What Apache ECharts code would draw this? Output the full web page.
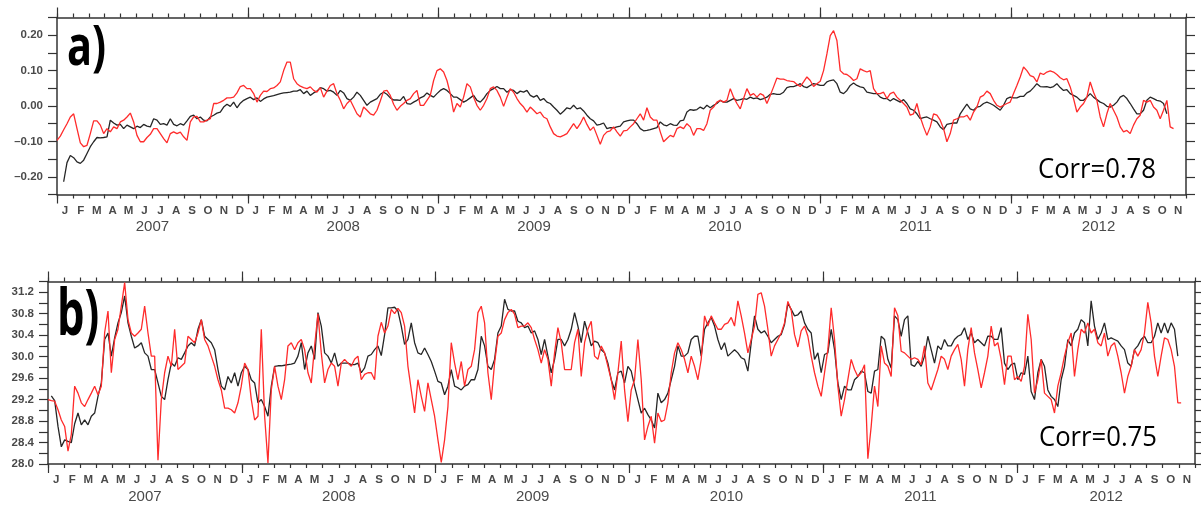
<!DOCTYPE html>
<html><head><meta charset="utf-8">
<script src="https://cdn.jsdelivr.net/npm/echarts@6/dist/echarts.min.js"></script>
<style>html,body{margin:0;padding:0;background:#fff}#c{width:1201px;height:506px}</style>
</head><body><div id="c"></div>
<script>
// ---- data ----
const monthLetters = ['J','F','M','A','M','J','J','A','S','O','N','D'];
const yearLabels = ['2007','2008','2009','2010','2011','2012'];
const nMonths = 71;              // Jan 2007 .. Nov 2012
const topStep = 0.2096;          // months between samples (panel a)
const botStep = 0.2063;          // months between samples (panel b)
const topTickLabels = [-0.2, -0.1, 0, 0.1, 0.2];
const botTickLabels = [28.0, 28.4, 28.8, 29.2, 29.6, 30.0, 30.4, 30.8, 31.2];
const corrA = 'Corr=0.78';
const corrB = 'Corr=0.75';

const topBlack = [null, null,
-0.214,-0.160,-0.140,-0.146,-0.158,-0.162,-0.153,-0.134,-0.115,-0.101,
-0.089,-0.090,-0.089,-0.087,-0.040,-0.048,-0.054,-0.052,-0.064,-0.054,
-0.059,-0.064,-0.057,-0.061,-0.052,-0.057,-0.059,-0.036,-0.040,-0.052,
-0.050,-0.054,-0.036,-0.052,-0.056,-0.050,-0.054,-0.042,-0.029,-0.026,
-0.036,-0.031,-0.040,-0.042,-0.031,-0.026,-0.020,-0.017,-0.003,0.005,
-0.001,0.011,-0.005,0.008,0.016,0.021,0.025,0.018,0.023,0.013,
0.020,0.025,0.027,0.029,0.032,0.035,0.037,0.038,0.039,0.042,
0.042,0.046,0.035,0.042,0.030,0.037,0.042,0.052,0.049,0.042,
0.044,0.039,0.030,0.044,0.037,0.021,0.016,0.025,0.039,0.030,
0.016,0.002,0.011,0.016,0.021,0.033,0.039,0.033,0.023,0.017,
0.017,
0.016,0.027,0.007,0.005,0.011,0.016,0.023,0.027,0.037,0.030,
0.025,0.035,0.044,0.049,0.044,0.035,0.025,0.025,0.018,0.011,
0.016,0.023,0.030,0.016,0.011,0.021,0.035,0.044,0.049,0.055,
0.049,0.049,0.039,0.046,0.044,0.035,0.042,0.039,0.044,0.030,
0.025,0.030,0.016,0.021,0.011,0.007,-0.003,-0.012,-0.023,-0.015,
-0.005,-0.008,0.002,-0.008,-0.005,-0.014,-0.026,-0.036,-0.042,-0.054,
-0.052,-0.048,-0.064,-0.061,-0.062,-0.059,-0.057,-0.045,-0.042,-0.040,
-0.040,-0.050,-0.064,-0.070,-0.069,-0.067,-0.064,-0.061,-0.045,-0.053,
-0.056,-0.050,-0.054,-0.055,-0.042,-0.040,-0.017,-0.010,-0.012,-0.010,
-0.003,-0.008,0.002,-0.005,0.002,0.007,0.016,0.011,0.011,0.016,
0.021,0.016,0.018,0.021,0.019,0.025,0.021,0.023,0.018,0.021,
0.025,0.033,0.035,0.033,
0.033,0.039,0.052,0.055,0.055,0.058,0.063,
0.055,0.052,0.058,0.063,0.061,0.058,0.058,0.068,0.072,0.074,
0.063,0.039,0.035,0.044,0.058,0.065,0.058,0.054,0.052,0.039,
0.037,0.035,0.035,0.025,0.021,0.021,0.014,0.021,0.016,0.011,
0.018,0.007,-0.008,-0.012,-0.022,-0.036,-0.033,-0.031,-0.036,-0.040,
-0.045,-0.059,-0.067,-0.052,-0.050,-0.048,-0.048,-0.022,-0.008,0.005,
-0.008,-0.012,-0.003,-0.001,0.007,0.011,0.007,0.002,-0.005,-0.012,
0.002,0.021,0.025,0.023,0.023,0.027,0.027,0.037,0.042,0.052,
0.063,0.055,0.054,0.055,0.052,0.055,0.063,0.052,0.044,0.046,
0.035,0.030,0.025,0.016,0.016,0.025,0.035,0.025,0.018,0.011,
0.007,-0.001,-0.003,0.002,0.011,0.025,0.030,0.021,0.007,-0.008,
-0.022,-0.022,-0.012,0.016,0.025,0.021,0.016,0.014,0.007,-0.022];

const topRed = [
-0.097,-0.085,-0.067,-0.050,-0.031,-0.022,-0.064,-0.104,-0.115,-0.111,
-0.078,-0.042,-0.042,-0.054,-0.078,-0.064,-0.073,-0.059,-0.064,-0.045,
-0.040,-0.031,-0.020,-0.045,-0.083,-0.101,-0.101,-0.089,-0.080,-0.064,
-0.064,-0.078,-0.092,-0.104,-0.078,-0.073,-0.078,-0.074,-0.087,-0.097,
-0.045,-0.031,-0.029,-0.045,-0.045,-0.040,-0.036,0.007,0.007,0.011,
0.016,0.023,0.023,0.025,0.037,0.055,0.058,0.049,0.049,0.035,
0.011,0.030,0.042,0.041,0.049,0.051,0.058,0.068,0.100,0.124,
0.124,0.077,0.063,0.056,0.052,0.049,0.054,0.044,0.039,0.052,
0.025,0.042,0.058,0.063,0.035,0.016,-0.008,0.007,0.016,-0.003,
-0.022,-0.031,-0.003,-0.012,-0.022,-0.026,-0.012,0.014,0.042,0.044,
0.030,0.005,-0.012,
-0.001,0.007,0.016,0.021,0.035,0.044,0.002,0.002,0.016,0.030,
0.072,0.100,0.105,0.096,0.072,0.035,-0.017,0.007,-0.003,0.025,
0.063,0.054,0.025,0.002,-0.012,0.002,0.021,0.049,0.054,0.044,
0.025,-0.001,0.025,0.049,0.039,0.021,0.007,-0.003,-0.017,-0.003,
-0.012,-0.022,-0.017,-0.031,-0.036,-0.059,-0.078,-0.085,-0.087,-0.083,
-0.078,-0.064,-0.050,-0.064,-0.050,-0.031,-0.052,-0.069,-0.059,-0.083,
-0.108,-0.083,-0.073,-0.070,-0.059,-0.073,-0.085,-0.070,-0.069,-0.059,
-0.050,-0.036,-0.022,-0.040,-0.005,-0.031,-0.040,-0.040,-0.073,-0.101,
-0.092,-0.083,-0.087,-0.064,-0.059,-0.064,-0.050,-0.059,-0.083,-0.064,
-0.064,-0.069,-0.050,-0.012,-0.003,0.011,0.016,0.011,0.016,0.049,
0.025,0.007,-0.008,0.021,0.049,0.030,0.035,0.025,0.035,0.030,
0.007,0.030,0.054,0.079,
0.076,0.076,0.072,0.070,0.069,0.061,0.055,
0.068,0.082,0.072,0.055,0.063,0.070,0.100,0.147,0.199,0.213,
0.185,0.100,0.091,0.089,0.082,0.072,0.077,0.105,0.100,0.096,
0.100,0.049,0.035,0.035,0.039,0.021,0.035,0.039,0.025,0.016,
0.007,-0.003,-0.026,-0.022,0.007,-0.031,-0.059,-0.083,-0.059,-0.022,
-0.026,-0.040,-0.064,-0.101,-0.078,-0.040,-0.036,-0.031,-0.031,-0.026,
-0.040,-0.017,-0.003,0.025,0.030,0.042,0.035,0.016,0.002,-0.003,
0.002,0.007,0.011,0.035,0.058,0.082,0.110,0.100,0.086,0.082,
0.068,0.093,0.089,0.096,0.099,0.096,0.089,0.080,0.074,0.077,
0.054,0.021,-0.017,-0.003,0.007,0.025,0.068,0.039,0.016,-0.031,
-0.059,-0.022,0.007,-0.012,-0.031,-0.059,-0.073,-0.069,-0.078,-0.054,
-0.036,-0.026,0.016,0.011,0.016,-0.003,-0.012,-0.036,-0.012,0.016,
-0.059,-0.064];

const botBlack = [null,
29.27,29.18,28.70,28.32,28.45,28.42,28.40,28.75,28.95,
28.73,28.82,28.73,28.89,28.95,29.26,29.51,30.32,30.44,30.01,
30.35,30.63,30.82,31.13,30.63,30.38,30.16,30.20,30.26,30.07,
30.01,29.76,29.76,29.51,29.26,29.20,29.57,29.88,29.82,29.98,
29.95,30.07,30.20,30.26,30.20,30.51,30.69,30.38,30.32,30.26,
30.13,29.76,29.45,29.38,29.63,29.51,29.70,29.45,29.70,29.82,
29.76,29.57,29.51,29.14,29.20,29.07,28.89,29.45,29.82,29.83,
29.83,29.84,29.85,29.86,29.88,30.01,30.26,29.76,30.07,30.20,
29.95,30.82,30.57,30.07,30.01,29.88,30.07,29.82,29.88,29.88,
29.88,29.85,29.85,29.88,29.70,29.79,30.01,30.04,30.13,30.20,
30.02,30.41,30.91,30.91,30.92,30.85,30.57,
30.23,30.32,30.63,30.26,30.07,30.04,30.16,30.04,29.91,29.73,
29.54,29.51,29.29,29.45,29.76,29.45,29.42,29.38,29.45,29.48,
29.57,29.57,29.76,30.38,30.20,29.82,29.76,29.95,30.44,30.57,
31.07,30.88,30.85,30.85,30.66,30.63,30.54,30.57,30.44,30.48,
30.32,30.04,30.32,30.01,29.70,29.95,30.32,30.32,30.20,30.32,
30.51,30.82,30.57,30.26,30.66,30.44,30.20,30.29,30.26,30.13,
30.07,29.88,29.57,29.38,29.70,29.73,29.51,29.82,29.73,29.45,
29.20,28.95,29.04,28.92,28.82,28.67,29.32,29.14,29.20,29.32,
29.57,29.82,30.20,30.01,30.01,30.07,30.32,30.38,30.38,30.01,
30.51,30.63,30.73,30.57,30.32,30.13,30.26,30.01,30.07,30.13,
30.07,29.98,29.95,29.73,30.26,30.76,30.51,30.44,30.48,30.38,
30.26,30.32,30.38,
30.41,30.60,30.99,30.88,30.76,30.78,30.85,
30.63,30.51,30.44,29.95,30.07,29.70,30.04,30.07,30.51,30.13,
29.51,29.20,29.45,29.38,29.38,29.57,29.63,29.73,29.70,29.35,
29.32,29.73,29.76,30.38,30.32,29.95,29.79,30.76,30.69,30.38,
30.69,30.76,29.85,29.82,29.91,29.82,30.01,30.38,30.13,29.88,
30.20,30.13,30.32,30.20,30.20,30.32,30.38,30.41,30.54,30.32,
30.44,30.26,30.32,30.26,30.20,30.38,30.38,30.32,30.32,30.54,
29.88,29.76,29.85,29.88,29.57,29.70,29.67,30.01,29.35,29.20,
29.70,29.95,29.82,29.38,29.26,29.20,29.07,29.57,29.82,30.32,
30.20,30.44,30.51,30.69,30.63,30.20,31.04,30.57,30.32,30.44,
30.63,30.32,30.35,30.32,30.29,30.20,30.13,29.88,29.82,30.13,
30.20,30.32,30.38,30.26,30.26,30.38,30.63,30.44,30.63,30.44,
30.63,30.51,30.01];

const botRed = [
29.20,29.18,29.17,29.01,28.82,28.70,28.24,28.55,29.45,29.32,
29.14,29.07,29.20,29.32,29.45,29.29,29.45,30.45,30.85,29.70,
30.32,30.51,30.94,31.38,30.69,30.44,30.38,30.44,30.51,30.94,
30.44,30.01,30.01,28.07,29.20,29.70,30.01,29.82,30.51,29.76,
29.82,29.88,30.38,30.32,30.26,30.44,30.69,30.32,30.20,30.01,
29.82,29.57,29.38,29.04,29.04,29.01,28.95,29.14,29.45,29.88,
29.76,29.20,28.82,28.89,30.51,28.89,28.02,29.38,29.82,29.45,
29.20,29.57,30.20,30.26,30.13,30.26,30.32,30.13,29.70,29.51,
30.20,30.80,30.07,29.51,29.76,29.88,29.82,29.45,29.88,29.95,
29.88,29.82,29.95,30.01,29.57,29.67,29.70,29.70,29.57,30.38,
30.64,30.44,30.57,30.88,30.80,30.90,30.82,
30.57,29.82,29.38,28.95,29.57,29.26,28.98,29.51,29.20,28.89,
28.45,28.03,28.45,29.07,30.26,29.88,29.57,29.91,29.45,29.76,
29.82,30.13,30.82,30.94,30.63,29.70,29.20,29.88,30.38,30.44,
30.69,30.82,30.88,30.79,30.54,30.57,30.57,30.63,30.54,30.32,
30.13,29.88,30.13,29.95,29.45,30.07,30.54,30.26,29.76,29.76,
29.76,30.26,30.51,29.63,30.26,30.51,30.66,30.01,29.95,30.20,
30.07,29.82,29.57,29.20,29.70,30.29,29.38,28.79,29.38,29.57,
30.32,29.57,28.45,28.70,28.89,28.39,28.95,28.79,28.82,29.14,
29.70,30.07,30.26,30.13,29.95,29.70,30.01,29.82,29.57,29.95,
30.76,30.57,30.76,30.63,30.51,30.51,30.60,30.63,30.73,30.57,
31.04,30.76,30.44,30.07,30.32,30.57,31.16,31.19,30.94,30.51,
30.01,30.20,30.32,
30.44,30.63,31.03,30.87,30.41,30.18,30.48,
30.57,30.38,30.01,29.70,29.45,29.26,29.70,30.13,30.91,30.32,
29.45,28.89,29.20,29.57,29.95,29.76,29.63,29.70,29.85,28.10,
28.70,29.45,29.07,30.20,29.88,29.82,29.63,30.91,30.76,30.10,
30.07,30.01,29.95,29.98,29.95,29.85,30.20,29.51,29.38,29.57,
29.76,30.01,29.95,29.76,30.01,30.13,30.23,29.95,29.45,30.13,
30.54,30.07,29.76,29.42,29.70,30.01,30.57,30.20,30.26,29.95,
29.48,30.01,30.01,29.57,29.63,29.54,29.82,30.79,30.32,29.32,
29.57,29.95,29.32,29.26,29.20,28.95,29.45,29.70,30.01,30.26,
30.44,29.63,30.13,30.51,30.44,30.63,30.44,30.51,30.26,30.20,
30.44,30.01,30.20,30.26,30.01,29.70,29.32,29.63,29.82,30.13,
30.01,30.13,30.44,31.01,30.63,30.01,29.63,30.01,30.35,30.32,
30.13,29.82,29.14,29.14];

// ---- helpers ----
function toXY(arr, step) {
  const out = [];
  arr.forEach((v, i) => { if (v !== null) out.push([+(i * step).toFixed(4), v]); });
  return out;
}
const monthTicks = Array.from({length: nMonths + 1}, (_, i) => i);
const monthCenters = Array.from({length: nMonths}, (_, i) => i + 0.5);
const yearTicks = yearLabels.map((_, i) => i * 12);
const yearCenters = yearLabels.map((_, i) => (i * 12 + Math.min(i * 12 + 12, nMonths)) / 2);

const AX = '#333';
const LBL = '#4a4a4a';
const tickFont = {color: LBL, fontSize: 11.5, fontWeight: 'bold', fontFamily: 'Liberation Sans'};

function xAxesFor(g) {
  const base = {gridIndex: g, type: 'value', min: 0, max: nMonths, splitLine: {show: false}};
  return [
    Object.assign({}, base, {position: 'bottom',
      axisLine: {show: true, onZero: false, lineStyle: {color: AX, width: 1.5}},
      axisTick: {show: true, customValues: monthTicks, length: 4, lineStyle: {color: AX, width: 1.2}},
      axisLabel: Object.assign({show: true, customValues: monthCenters, margin: 10,
        formatter: v => monthLetters[Math.floor(v) % 12]}, tickFont)}),
    Object.assign({}, base, {position: 'bottom',
      axisLine: {show: false, onZero: false},
      axisTick: {show: true, customValues: yearTicks, length: 9, lineStyle: {color: AX, width: 1.2}},
      axisLabel: {show: true, customValues: yearCenters, margin: 25, color: LBL, fontSize: 15,
        fontFamily: 'Liberation Sans', formatter: v => yearLabels[Math.floor(v / 12)]}}),
    Object.assign({}, base, {position: 'top',
      axisLine: {show: true, onZero: false, lineStyle: {color: AX, width: 1.5}},
      axisTick: {show: true, customValues: monthTicks, length: 4, lineStyle: {color: AX, width: 1.2}},
      axisLabel: {show: false}}),
    Object.assign({}, base, {position: 'top',
      axisLine: {show: false, onZero: false},
      axisTick: {show: true, customValues: yearTicks, length: 10, lineStyle: {color: AX, width: 1.2}},
      axisLabel: {show: false}})
  ];
}
function yAxesFor(g, min, max, tickStep, labels, fmt) {
  const n = Math.round((max - min) / tickStep);
  const ticks = Array.from({length: n + 1}, (_, i) => +(min + i * tickStep).toFixed(4));
  const base = {gridIndex: g, type: 'value', min: min, max: max, splitLine: {show: false}};
  return [
    Object.assign({}, base, {position: 'left',
      axisLine: {show: true, onZero: false, lineStyle: {color: AX, width: 1.5}},
      axisTick: {show: true, customValues: ticks, length: 9, lineStyle: {color: AX, width: 1.2}},
      axisLabel: Object.assign({show: true, customValues: labels, margin: 14, formatter: fmt}, tickFont)}),
    Object.assign({}, base, {position: 'right',
      axisLine: {show: true, onZero: false, lineStyle: {color: AX, width: 1.5}},
      axisTick: {show: true, customValues: ticks, length: 9, lineStyle: {color: AX, width: 1.2}},
      axisLabel: {show: false}})
  ];
}

const RED = '#ff2b2b', BLACK = '#262626';
function line(xi, yi, data, color) {
  return {type: 'line', xAxisIndex: xi, yAxisIndex: yi, data: data, showSymbol: false,
    symbol: 'none', lineStyle: {color: color, width: 1.3}, itemStyle: {color: color}, animation: false};
}
function label(text, x, y, font, sx) {
  return {type: 'text', x: x, y: y, scaleX: sx, z: 100, silent: true,
    style: {text: text, font: font, fill: '#000', textAlign: 'left', textVerticalAlign: 'middle'}};
}

const chart = echarts.init(document.getElementById('c'), null, {renderer: 'canvas'});
chart.setOption({
  backgroundColor: '#fff',
  animation: false,
  grid: [
    {left: 57, top: 17.5, width: 1129, height: 177, containLabel: false, outerBoundsMode: 'none'},
    {left: 48, top: 281.5, width: 1147, height: 182.5, containLabel: false, outerBoundsMode: 'none'}
  ],
  xAxis: xAxesFor(0).concat(xAxesFor(1)),
  yAxis: yAxesFor(0, -0.25, 0.25, 0.05, topTickLabels, v => v.toFixed(2).replace('-', '\u2013'))
    .concat(yAxesFor(1, 28.0, 31.4, 0.2, botTickLabels, v => v.toFixed(1))),
  series: [
    line(0, 0, toXY(topBlack, topStep), BLACK),
    line(0, 0, toXY(topRed, topStep), RED),
    line(4, 2, toXY(botBlack, botStep), BLACK),
    line(4, 2, toXY(botRed, botStep), RED)
  ],
  graphic: [
    label('a)', 67, 49, 'bold 56px "Open Sans"', 0.74),
    label('b)', 57, 317, 'bold 64px "Open Sans"', 0.68),
    label(corrA, 1038, 170, '27px "Open Sans"', 0.95),
    label(corrB, 1039, 438, '27px "Open Sans"', 0.95)
  ]
});
</script></body></html>
